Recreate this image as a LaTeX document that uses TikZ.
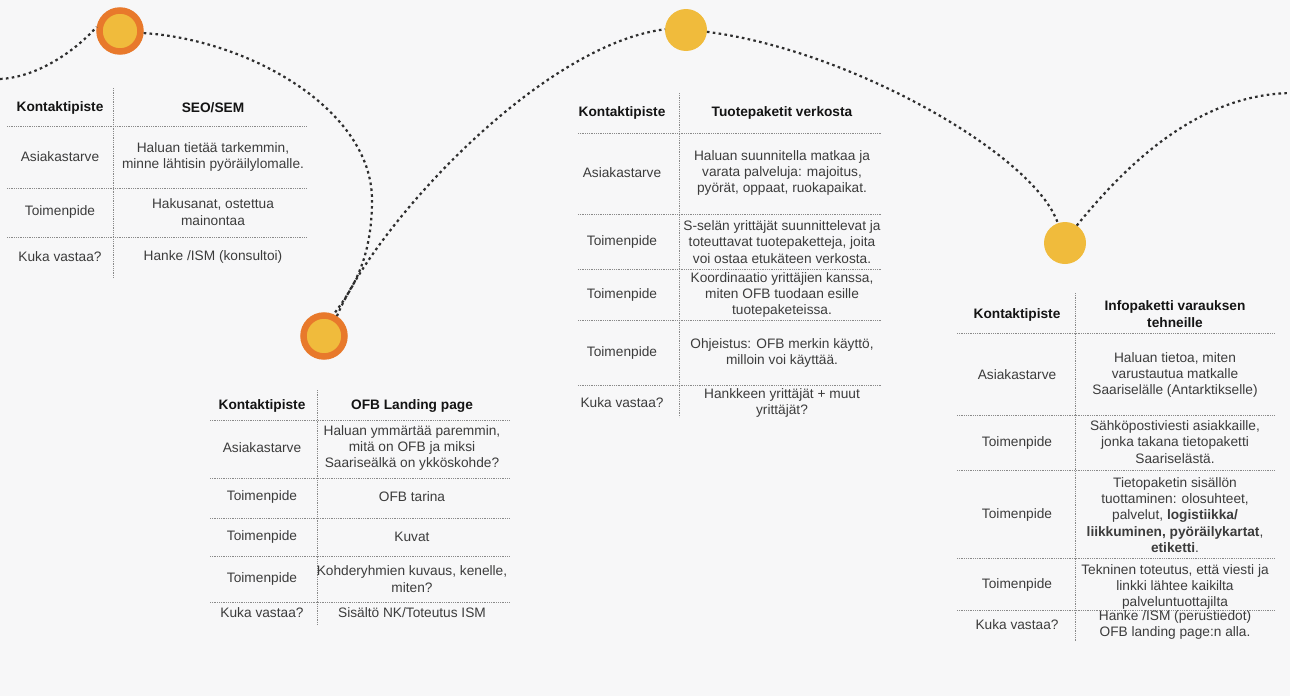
\documentclass[tikz,border=0pt]{standalone}
\usepackage{fontspec}
\setmainfont{Liberation Sans}
\definecolor{bgcol}{HTML}{F7F7F8}
\definecolor{ringorange}{HTML}{E8792B}
\definecolor{dotyellow}{HTML}{F0BB3C}
\definecolor{txtgray}{HTML}{3C3C3C}
\definecolor{hdrblack}{HTML}{141414}
\definecolor{rulegray}{HTML}{8A8A8A}
\definecolor{pathgray}{HTML}{2E2E2E}
\begin{document}
\begin{tikzpicture}[x=1pt,y=-1pt,
  cell/.style={inner sep=0pt, outer sep=0pt, align=center, text=txtgray, font=\fontsize{13.7}{16.3}\selectfont},
  hdr/.style={cell, text=hdrblack, font=\fontsize{13.7}{16.3}\selectfont\bfseries},
  rulel/.style={draw=rulegray, line width=0.7pt, dash pattern=on 0.9pt off 0.9pt},
  journey/.style={draw=pathgray, line width=2.2pt, dash pattern=on 2.6pt off 3.3pt},
  ringdot/.style={circle, fill=dotyellow, draw=ringorange, line width=6.5pt, inner sep=0pt, minimum size=41pt},
  plaindot/.style={circle, fill=dotyellow, inner sep=0pt, outer sep=0pt, minimum size=42pt}]

\fill[bgcol] (0,0) rectangle (1290,696);
\useasboundingbox (0,0) rectangle (1290,696);

% ---------- touch points ----------
\node[ringdot] (c1) at (120,31) {};
\node[ringdot] (c2) at (324,336) {};
\node[plaindot] (c3) at (686,30) {};
\node[plaindot] (c4) at (1065,243) {};
\coordinate (l0) at (0,79);
\coordinate (r0) at (1290,93);

% ---------- journey path ----------
\draw[journey] (l0) .. controls (40,77) and (78,48) .. (c1.170);
\draw[journey] (c1.-5) .. controls (250,40) and (372,110) .. (372,200)
                .. controls (372,260) and (352,290) .. (c2.66);
\draw[journey] (c2.57) .. controls (375,225) and (540,45) .. (c3.178);
\draw[journey] (c3.-5) .. controls (850,50) and (1035,155) .. (c4.110);
\draw[journey] (c4.56) .. controls (1130,160) and (1200,95) .. (r0);

% ---------- table 1: SEO/SEM ----------
\draw[rulel] (113,88) -- (113,278);
\foreach \yy in {126,188,237} \draw[rulel] (7,\yy) -- (307,\yy);
\node[hdr] (t1h1) at (60,108) {Kontaktipiste};
\node[hdr] (t1h2) at (213,108) {SEO/SEM};
\node[cell] (t1a1) at (60,157) {Asiakastarve};
\node[cell] (t1a2) at (213,157) {Haluan tietää tarkemmin,\\minne lähtisin pyöräilylomalle.};
\node[cell] (t1b1) at (60,212) {Toimenpide};
\node[cell] (t1b2) at (213,212) {Hakusanat, ostettua\\mainontaa};
\node[cell] (t1c1) at (60,257) {Kuka vastaa?};
\node[cell] (t1c2) at (213,257) {Hanke /ISM (konsultoi)};

% ---------- table 2: OFB Landing page ----------
\draw[rulel] (317,390) -- (317,625);
\foreach \yy in {420,478,518,556,602} \draw[rulel] (210,\yy) -- (510,\yy);
\node[hdr] (t2h1) at (262,406) {Kontaktipiste};
\node[hdr] (t2h2) at (412,406) {OFB Landing page};
\node[cell] (t2a1) at (262,448) {Asiakastarve};
\node[cell] (t2a2) at (412,448) {Haluan ymmärtää paremmin,\\mitä on OFB ja miksi\\Saariseälkä on ykköskohde?};
\node[cell] (t2b1) at (262,497) {Toimenpide};
\node[cell] (t2b2) at (412,497) {OFB tarina};
\node[cell] (t2c1) at (262,537) {Toimenpide};
\node[cell] (t2c2) at (412,537) {Kuvat};
\node[cell] (t2d1) at (262,579) {Toimenpide};
\node[cell] (t2d2) at (412,579) {Kohderyhmien kuvaus, kenelle,\\miten?};
\node[cell] (t2e1) at (262,613) {Kuka vastaa?};
\node[cell] (t2e2) at (412,613) {Sisältö NK/Toteutus ISM};

% ---------- table 3: Tuotepaketit verkosta ----------
\draw[rulel] (679,93) -- (679,417);
\foreach \yy in {133,214,269,320,385} \draw[rulel] (578,\yy) -- (882,\yy);
\node[hdr] (t3h1) at (622,113) {Kontaktipiste};
\node[hdr] (t3h2) at (782,113) {Tuotepaketit verkosta};
\node[cell] (t3a1) at (622,173) {Asiakastarve};
\node[cell] (t3a2) at (782,173) {Haluan suunnitella matkaa ja\\varata palveluja: majoitus,\\pyörät, oppaat, ruokapaikat.};
\node[cell] (t3b1) at (622,242) {Toimenpide};
\node[cell] (t3b2) at (782,242) {S-selän yrittäjät suunnittelevat ja\\toteuttavat tuotepaketteja, joita\\voi ostaa etukäteen verkosta.};
\node[cell] (t3c1) at (622,295) {Toimenpide};
\node[cell] (t3c2) at (782,295) {Koordinaatio yrittäjien kanssa,\\miten OFB tuodaan esille\\tuotepaketeissa.};
\node[cell] (t3d1) at (622,353) {Toimenpide};
\node[cell] (t3d2) at (782,353) {Ohjeistus: OFB merkin käyttö,\\milloin voi käyttää.};
\node[cell] (t3e1) at (622,403) {Kuka vastaa?};
\node[cell] (t3e2) at (782,403) {Hankkeen yrittäjät + muut\\yrittäjät?};

% ---------- table 4: Infopaketti varauksen tehneille ----------
\draw[rulel] (1075,293) -- (1075,642);
\foreach \yy in {333,415,470,558,610} \draw[rulel] (957,\yy) -- (1275,\yy);
\node[hdr] (t4h1) at (1017,315) {Kontaktipiste};
\node[hdr] (t4h2) at (1175,314) {Infopaketti varauksen\\tehneille};
\node[cell] (t4a1) at (1017,375) {Asiakastarve};
\node[cell] (t4a2) at (1175,375) {Haluan tietoa, miten\\varustautua matkalle\\Saariselälle (Antarktikselle)};
\node[cell] (t4b1) at (1017,443) {Toimenpide};
\node[cell] (t4b2) at (1175,442) {Sähköpostiviesti asiakkaille,\\jonka takana tietopaketti\\Saariselästä.};
\node[cell] (t4c1) at (1017,515) {Toimenpide};
\node[cell] (t4c2) at (1175,515) {Tietopaketin sisällön\\tuottaminen: olosuhteet,\\palvelut, \textbf{logistiikka/}\\\textbf{liikkuminen, pyöräilykartat},\\\textbf{etiketti}.};
\node[cell] (t4d1) at (1017,585) {Toimenpide};
\node[cell] (t4d2) at (1175,587) {Tekninen toteutus, että viesti ja\\linkki lähtee kaikilta\\palveluntuottajilta};
\node[cell] (t4e1) at (1017,625) {Kuka vastaa?};
\node[cell] (t4e2) at (1175,625) {Hanke /ISM (perustiedot)\\OFB landing page:n alla.};
\end{tikzpicture}
\end{document}
